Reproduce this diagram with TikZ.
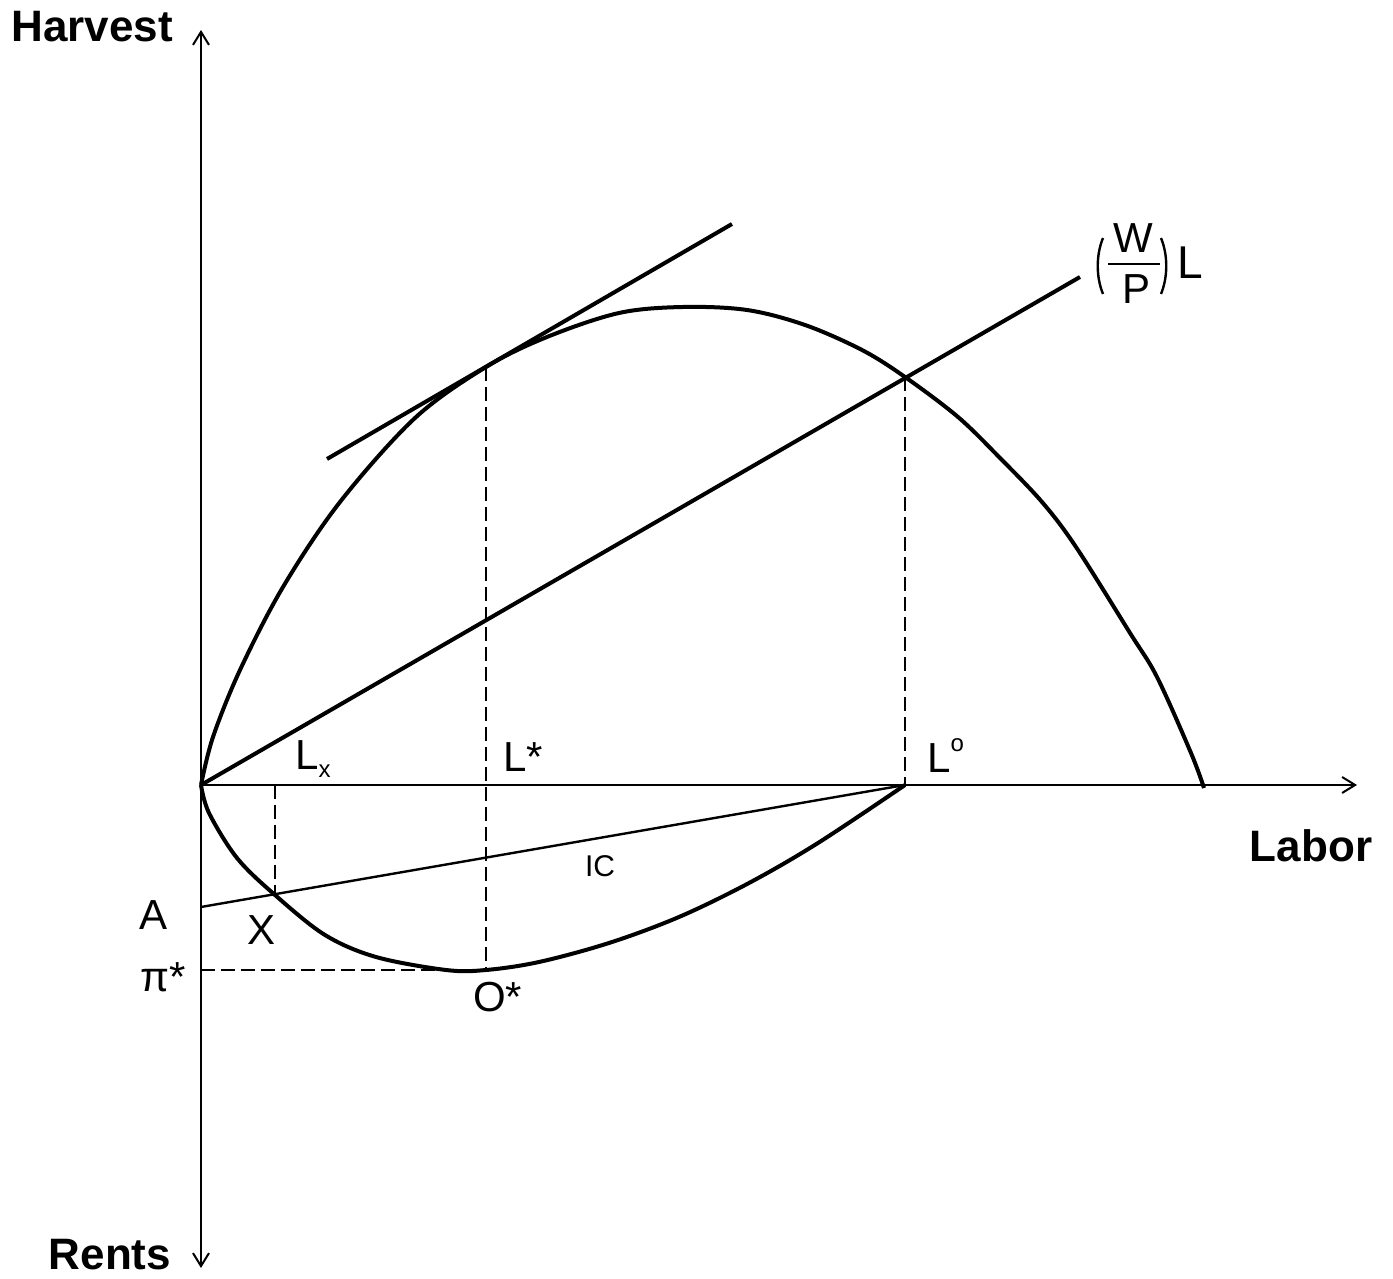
\documentclass[tikz,border=0pt]{standalone}
\usepackage{fontspec}
\setmainfont{Liberation Sans}
\usetikzlibrary{arrows.meta}
\tikzset{
  axisline/.style={line width=2pt},
  axistip/.tip={Straight Barb[length=13pt, width=16pt, line width=2pt]},
  thickcurve/.style={line width=4pt, line join=round},
  thinline/.style={line width=2.4pt},
  dashline/.style={line width=2pt, dash pattern=on 14pt off 6pt},
  parenline/.style={line width=2.4pt},
  lbl/.style={font=\fontsize{42}{48}\selectfont, inner sep=0pt},
  boldlbl/.style={font=\fontsize{44}{50}\selectfont\bfseries, inner sep=0pt}
}

\begin{document}
\begin{tikzpicture}[x=1pt, y=1pt]
    \useasboundingbox (-201,-494) rectangle (1192,785);
    % points on the axes and on the curves
    \coordinate (O) at (0,0);
    \coordinate (top) at (0,755);
    \coordinate (bottom) at (0,-483);
    \coordinate (right) at (1156,0);
    \coordinate (Lx) at (74,0);
    \coordinate (Ls) at (285,0);
    \coordinate (Lo) at (704,0);
    \coordinate (T) at (285,418);
    \coordinate (E) at (704,408);
    \coordinate (X) at (74,-110);
    \coordinate (Os) at (285,-185);
    \coordinate (A) at (0,-122);
    \coordinate (pis) at (0,-185);
    \coordinate (tanL) at (126,326);
    \coordinate (tanR) at (531,561);
    \coordinate (wpEnd) at (879,508);

    % axes
    \draw[axisline, axistip-axistip] (bottom) -- (top);
    \draw[axisline, -axistip] (O) -- (right);

    % harvest curve
    \draw[thickcurve] plot[smooth, tension=0.55] coordinates {
      (0,0) (12,48) (39,115) (82,198) (139,283) (214,367) (285,418)
      (346,448) (418,472) (482,478) (546,475) (604,460) (661,435)
      (704,408) (757,368) (799,327) (841,283) (875,238) (929,152)
      (956,108) (990,32) (1003,-3)};

    % rents curve
    \draw[thickcurve] plot[smooth, tension=0.55] coordinates {
      (0,0) (8,-28) (36,-73) (74,-110) (124,-150) (175,-172) (245,-185)
      (285,-185) (338,-177) (408,-158) (478,-132) (548,-98) (617,-58)
      (704,0)};

    % wage line and tangent
    \draw[thickcurve] (O) -- (wpEnd);
    \draw[thickcurve] (tanL) -- (tanR);
    \draw[thinline] (A) -- (Lo);

    % dashed guides
    \draw[dashline] (T) -- (Os);
    \draw[dashline] (E) -- (Lo);
    \draw[dashline] (Lx) -- (X);
    \draw[dashline] (pis) -- (Os);

    % labels
    \node[boldlbl, anchor=base] (harvest) at (-109,743) {Harvest};
    \node[boldlbl, anchor=base] (rents) at (-91,-485) {Rents};
    \node[boldlbl, anchor=base] (labor) at (1110,-77) {Labor};
    \node[lbl, anchor=base west] (lxlbl) at (94,15) {L\raisebox{-8pt}{\fontsize{24}{24}\selectfont x}};
    \node[lbl, anchor=base west] (lslbl) at (302,13) {L*};
    \node[lbl, anchor=base west] (lolbl) at (726,12) {L\raisebox{21pt}{\fontsize{24}{24}\selectfont o}};
    \node[inner sep=0pt, font=\fontsize{30}{36}\selectfont, anchor=base] (iclbl) at (399,-92) {IC};
    \node[lbl, anchor=base] (albl) at (-47,-145) {A};
    \node[lbl, anchor=base] (xlbl) at (61,-160) {X};
    \node[lbl, anchor=base west] (pilbl) at (-61,-207) {π*};
    \node[lbl, anchor=base west] (oslbl) at (272,-227) {O*};

    % (W/P)L label
    \node[lbl, anchor=base] (wlbl) at (932,532) {W};
    \node[lbl, anchor=base] (plbl) at (935,481) {P};
    \coordinate (barL) at (907,521);
    \coordinate (barR) at (959,521);
    \draw[thinline] (barL) -- (barR);
    \draw[parenline] (902,547) .. controls (895,530) and (895,508) .. (902,491);
    \draw[parenline] (960,547) .. controls (967,530) and (967,508) .. (960,491);
    \node[lbl, font=\fontsize{46}{50}\selectfont, anchor=base west] (llbl) at (976,506) {L};
\end{tikzpicture}
\end{document}
